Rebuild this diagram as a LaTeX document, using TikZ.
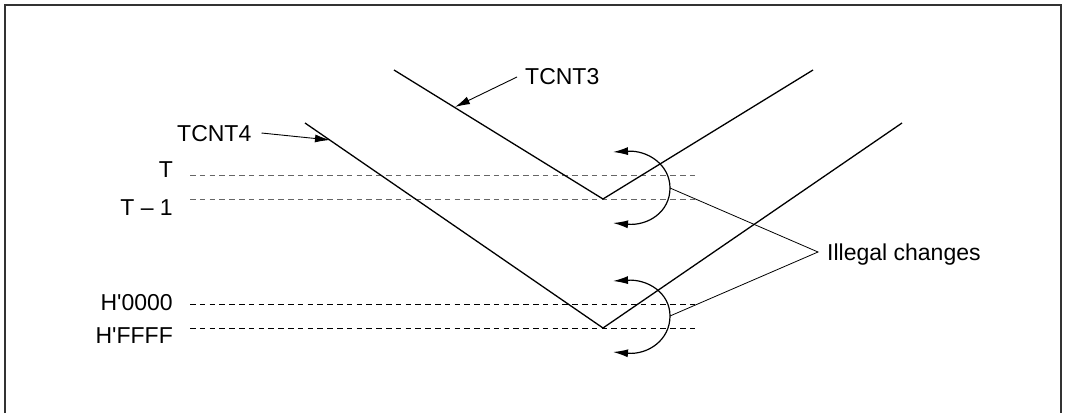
\documentclass[tikz,border=0pt]{standalone}
\usepackage{fontspec}
\setmainfont{Liberation Sans}[Ligatures=TeXOff]
\usetikzlibrary{arrows.meta}
\begin{document}
\begin{tikzpicture}[x=1pt,y=-1pt,
  lbl/.style={font=\fontsize{23}{26}\selectfont, inner sep=0pt},
  ramp/.style={line width=1.3pt, line join=miter},
  level/.style={line width=1pt, dash pattern=on 5.5pt off 4.3pt},
  pointer/.style={line width=0.9pt, -{Latex[length=15pt,width=8pt]}},
  change/.style={line width=1.2pt, {Latex[length=15pt,width=8pt]}-{Latex[length=15pt,width=8pt]}},
  leader/.style={line width=0.8pt}]
\useasboundingbox (0,0) rectangle (1066,413);
\draw[line width=1.6pt, black!80] (5,413) -- (5,5) -- (1061,5) -- (1061,413);

% level lines
\draw[level, black!60] (190,175) -- (697,175);
\draw[level, black!60] (190,199) -- (697,199);
\draw[level] (190,304) -- (697,304);
\draw[level] (190,328) -- (697,328);

\node[lbl, anchor=base east] (lT)  at (173,177) {T};
\node[lbl, anchor=base east] (lT1) at (173,215) {T – 1};
\node[lbl, anchor=base east] (l0)  at (173,310) {H'0000};
\node[lbl, anchor=base east] (lF)  at (173,343) {H'FFFF};

% counters
\coordinate (a1) at (394,70);
\coordinate (a2) at (603,199);
\coordinate (a3) at (813,70);
\coordinate (b1) at (305,123);
\coordinate (b2) at (603,328);
\coordinate (b3) at (902,123);
\draw[ramp] (a1) -- (a2) -- (a3);
\draw[ramp] (b1) -- (b2) -- (b3);

\node[lbl, anchor=west] (t3) at (525,77) {TCNT3};
\node[lbl, anchor=west] (t4) at (177,134) {TCNT4};
\coordinate (p3) at (455,107);
\coordinate (p4) at (330,140);
\draw[pointer] ([xshift=-8pt]t3.west) -- (p3);
\draw[pointer] ([xshift=10pt,yshift=1pt]t4.east) -- (p4);

% illegal change arcs
\coordinate (u1) at (613,152);
\coordinate (um) at (670,188);
\coordinate (u2) at (613,223);
\coordinate (d1) at (613,281);
\coordinate (dm) at (670,316);
\coordinate (d2) at (613,352);
\draw[change] (u1) .. controls (648,150) and (670,165) .. (um) .. controls (670,212) and (648,226) .. (u2);
\draw[change] (d1) .. controls (648,279) and (670,293) .. (dm) .. controls (670,340) and (648,355) .. (d2);

\node[lbl, anchor=west, text height=17pt, text depth=0pt, inner xsep=9pt] (ill) at (818,252) {Illegal changes};
\draw[leader] (um) -- (ill.west) -- (dm);
\end{tikzpicture}
\end{document}
